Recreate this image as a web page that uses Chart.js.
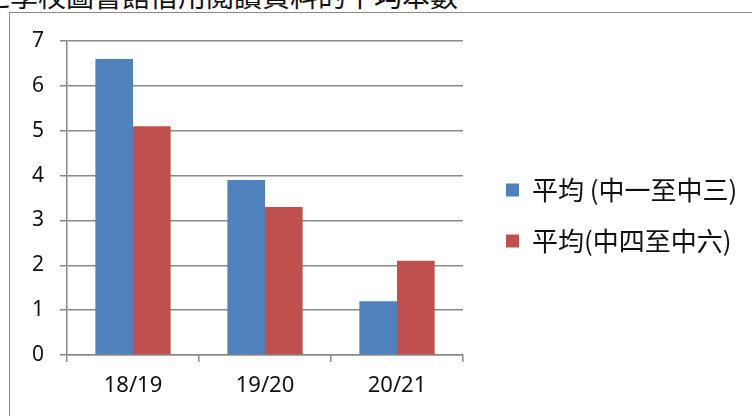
<!DOCTYPE html>
<html>
<head>
<meta charset="utf-8">
<script src="https://cdn.jsdelivr.net/npm/chart.js@4"></script>
<style>
  html, body { margin: 0; padding: 0; background: #fff; overflow: hidden; }
  #wrap { position: relative; width: 752px; height: 416px; overflow: hidden; }
  #title { position: absolute; left: -18px; top: -19px; font: 28px/28px "Noto Sans CJK TC"; color: #111; white-space: nowrap; }
  #frame { position: absolute; left: 9px; top: 12px; width: 800px; height: 500px; border-left: 1px solid #8a8a8a; border-top: 1px solid #8a8a8a; }
  #chart { position: absolute; left: 0; top: 0; }
</style>
</head>
<body>
<div id="wrap">
  <div id="title">之學校圖書館借用閱讀資料的平均本數</div>
  <div id="frame"></div>
  <canvas id="chart" width="752" height="416"></canvas>
</div>
<script>
const categories = ["18/19", "19/20", "20/21"];
const seriesNames = ["平均 (中一至中三)", "平均(中四至中六)"];
const juniorValues = [6.6, 3.9, 1.2];
const seniorValues = [5.1, 3.3, 2.1];
const yTicks = [0, 1, 2, 3, 4, 5, 6, 7];

const gridColor = '#8a8a8a';

// fixed legend column width, items pushed away from plot area
const legendFix = {
    id: 'legendFix',
    beforeInit(chart) {
        const legend = chart.legend;
        if (!legend) return;
        const fit = legend.fit;
        legend.fit = function () {
            fit.call(this);
            this.width = 289;
        };
    },
    afterLayout(chart) {
        chart.legend.left += 18;
        chart.legend.top -= 13;
        chart.legend.bottom -= 13;
    }
};

const ctx = document.getElementById("chart").getContext("2d");
const chart = new Chart(ctx, {
    type: 'bar',
    data: {
        labels: categories,
        datasets: [{
            label: seriesNames[0],
            data: juniorValues,
            backgroundColor: '#4F81BD'
        }, {
            label: seriesNames[1],
            data: seniorValues,
            backgroundColor: '#C0504D'
        }]
    },
    options: {
        responsive: false,
        animation: false,
        layout: { padding: { top: 41, left: 0, right: 0, bottom: 0 } },
        datasets: {
            bar: { categoryPercentage: 0.57, barPercentage: 1.0 }
        },
        plugins: {
            title: { display: false },
            tooltip: { enabled: false },
            legend: {
                position: 'right',
                labels: {
                    boxWidth: 13,
                    boxHeight: 13,
                    padding: 25,
                    color: '#111',
                    font: { family: '"Noto Sans CJK TC"', size: 26 }
                }
            }
        },
        scales: {
            x: {
                grid: { display: true, offset: true, drawOnChartArea: false, color: gridColor, lineWidth: 1.5, tickLength: 7 },
                border: { color: gridColor, width: 1.5 },
                ticks: { color: '#111', padding: 11, font: { family: '"Noto Sans"', size: 22 } },
                afterFit(scale) { scale.height = 61; }
            },
            y: {
                min: 0,
                max: 7,
                afterBuildTicks(scale) { scale.ticks = yTicks.map(v => ({ value: v })); },
                grid: { color: gridColor, lineWidth: 1.5, tickLength: 7 },
                border: { color: gridColor, width: 1.5 },
                ticks: { color: '#111', padding: 16, font: { family: '"Noto Sans"', size: 21 } },
                afterFit(scale) { scale.width = 67; }
            }
        }
    },
    plugins: [legendFix]
});
</script>
</body>
</html>
